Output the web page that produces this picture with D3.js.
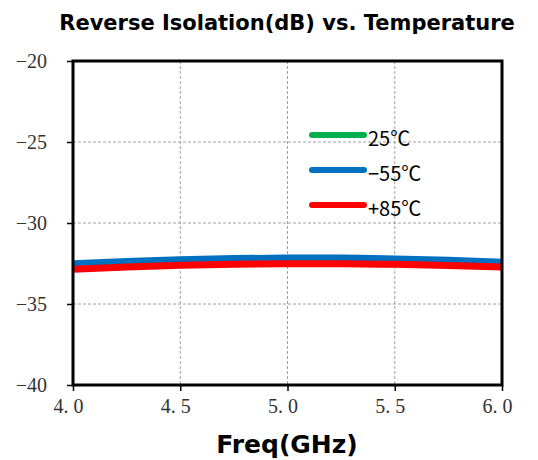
<!DOCTYPE html>
<html><head><meta charset="utf-8">
<script src="https://cdn.jsdelivr.net/npm/d3@7"></script>
<style>body{margin:0;background:#fff}</style>
</head><body>
<svg id="c" width="538" height="460"></svg>
<script>
const freq = [4.0, 4.25, 4.5, 4.75, 5.0, 5.25, 5.5, 5.75, 6.0];
const t25  = [-32.66, -32.52, -32.41, -32.34, -32.31, -32.31, -32.35, -32.43, -32.55];
const tm55 = [-32.50, -32.36, -32.25, -32.18, -32.15, -32.15, -32.20, -32.28, -32.40];
const tp85 = [-32.86, -32.72, -32.61, -32.54, -32.51, -32.51, -32.55, -32.62, -32.72];
const xTicks = [4.0, 4.5, 5.0, 5.5, 6.0];
const xTickLabels = ["4. 0", "4. 5", "5. 0", "5. 5", "6. 0"];
const yTicks = [-20, -25, -30, -35, -40];
const seriesNames = ["25℃", "−55℃", "+85℃"];
const seriesColors = ["#00b050", "#0070c0", "#ff0000"];
const seriesData = [t25, tm55, tp85];

const svg = d3.select("#c");
const L = 73, R = 502, T = 61, B = 385;
const x = d3.scaleLinear().domain([4, 6]).range([L, R]);
const y = d3.scaleLinear().domain([-40, -20]).range([B, T]);

// grid
svg.append("g").selectAll("line").data(xTicks.slice(1, -1)).join("line")
  .attr("x1", d => x(d)).attr("x2", d => x(d)).attr("y1", T).attr("y2", B)
  .attr("stroke", "#a0a0a0").attr("stroke-width", 1).attr("stroke-dasharray", "3,2");
svg.append("g").selectAll("line").data(yTicks.slice(1, -1)).join("line")
  .attr("y1", d => y(d)).attr("y2", d => y(d)).attr("x1", L).attr("x2", R)
  .attr("stroke", "#a0a0a0").attr("stroke-width", 1).attr("stroke-dasharray", "3,2");

// axes
const yAxis = d3.axisLeft(y).tickValues(yTicks).tickSize(6).tickSizeOuter(0)
  .tickFormat(d => d3.format("d")(d).replace("-", "−"));
const gy = svg.append("g").attr("transform", `translate(${L},0)`).call(yAxis);
gy.select(".domain").remove();
gy.selectAll("line").attr("stroke", "#000").attr("stroke-width", 1.5);
gy.selectAll("text").attr("x", -26).attr("font-family", "Liberation Serif, serif")
  .attr("font-size", 20).attr("fill", "#333");

const xAxis = d3.axisBottom(x).tickValues(xTicks).tickSize(6).tickSizeOuter(0)
  .tickFormat((d, i) => xTickLabels[i]);
const gx = svg.append("g").attr("transform", `translate(0,${B})`).call(xAxis);
gx.select(".domain").remove();
gx.selectAll("line").attr("stroke", "#000").attr("stroke-width", 1.5);
gx.selectAll("text").attr("y", 14).attr("dx", -5).attr("font-family", "Liberation Serif, serif")
  .attr("font-size", 20).attr("fill", "#333");

// lines
const line = d3.line().x((d, i) => x(freq[i])).y(d => y(d)).curve(d3.curveMonotoneX);
const widths = [6, 6.5, 7];
seriesData.forEach((s, k) => {
  svg.append("path").datum(s).attr("d", line).attr("fill", "none")
    .attr("stroke", seriesColors[k]).attr("stroke-width", widths[k]);
});

// frame
svg.append("rect").attr("x", L).attr("y", T).attr("width", R - L).attr("height", B - T)
  .attr("fill", "none").attr("stroke", "#000").attr("stroke-width", 3);

// legend
const ly = [135, 170, 205];
seriesNames.forEach((n, k) => {
  svg.append("line").attr("x1", 312).attr("x2", 364).attr("y1", ly[k]).attr("y2", ly[k])
    .attr("stroke", seriesColors[k]).attr("stroke-width", 6).attr("stroke-linecap", "round");
  svg.append("text").attr("x", 368).attr("y", ly[k] + 11).text(n)
    .attr("font-family", "Noto Sans CJK SC, sans-serif").attr("font-size", 20).attr("fill", "#000");
});

// titles
svg.append("text").attr("x", 287).attr("y", 30).attr("text-anchor", "middle")
  .attr("font-family", "DejaVu Sans, sans-serif").attr("font-weight", "bold").attr("font-size", 21)
  .text("Reverse Isolation(dB) vs. Temperature");
svg.append("text").attr("x", 287).attr("y", 453).attr("text-anchor", "middle")
  .attr("font-family", "DejaVu Sans, sans-serif").attr("font-weight", "bold").attr("font-size", 25)
  .text("Freq(GHz)");
</script>
</body></html>
